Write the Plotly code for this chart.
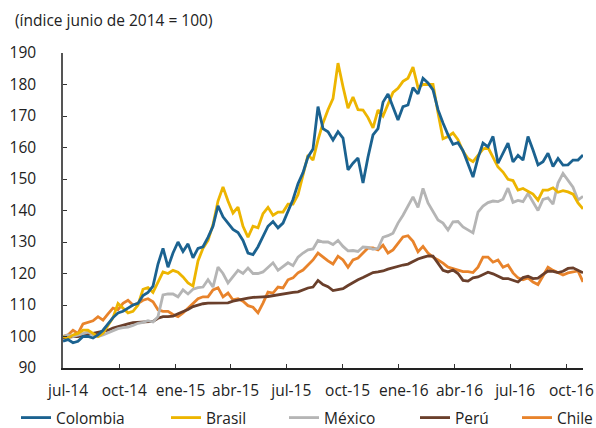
import pandas as pd
import plotly.graph_objects as go

# ---------------- data ----------------
start_date = "2014-07-01"
end_date = "2016-10-28"
n_points = 105

colombia = [
    98.5, 99, 98, 98.5, 100, 100, 99.5, 100.5, 102, 104,
    106, 107.5, 108, 109, 110, 110.5, 113, 114, 116, 123,
    128, 122, 126.5, 130, 127, 129.4, 125, 128, 128.5, 131.5,
    135, 141.5, 138, 136, 134, 133, 130.5, 126.5, 126, 128.5,
    132, 135, 136.5, 134.5, 136, 139.5, 143.5, 148.5, 152, 157,
    159.5, 173, 166, 165, 162.4, 165, 163, 152.9, 155, 156.7,
    148.7, 157, 164, 166, 174.4, 177, 173, 168.7, 173, 173.5,
    179, 177, 182, 180.5, 178.3, 172, 167.8, 164, 161, 161.5,
    159, 155, 150.6, 156.7, 161.4, 160.2, 163.5, 155, 158.2, 161.4,
    155.4, 157.5, 156, 163.5, 159.2, 154.5, 155.5, 158.2, 154, 156.5,
    154.4, 154.5, 156, 156, 157.6,
]
brasil = [
    100, 99.5, 100.5, 101, 102, 102, 101, 100, 101, 103.5,
    106, 110.5, 109, 107.5, 108, 110, 115, 115.5, 114, 117.5,
    120.5, 120, 121, 120.4, 118.9, 117, 116, 124, 128, 130.5,
    135.5, 143, 147.5, 143, 139.2, 141.1, 135, 131.5, 135, 134.5,
    139, 141, 138.5, 139.5, 139.5, 142, 142, 145, 151.8, 157.6,
    156, 162.4, 167.8, 172, 175.5, 186.8, 179.3, 172.5, 176, 172,
    171.9, 169.5, 166.2, 171.9, 170, 173.5, 177.5, 178.8, 181, 182,
    185.5, 179, 180, 180, 180, 171, 162.8, 163.5, 164.6, 162.5,
    158.8, 156.5, 155.5, 157.5, 159.5, 160, 157, 153.8, 152.2, 149.9,
    149.5, 146.5, 147, 146, 145.2, 143.3, 146.5, 146.5, 147.2, 145.8,
    146.3, 145.9, 145.2, 142.4, 140.5,
]
mexico = [
    100, 100.5, 100, 100.5, 101, 101.4, 100.5, 100, 100.5, 101.2,
    102, 102.5, 102.8, 103, 103.5, 104.2, 104.5, 105, 104.6, 106.3,
    113.2, 113.5, 113.5, 112.6, 114.8, 113.5, 115, 115.5, 115.7, 118,
    115.7, 122, 120, 117, 119, 121, 120, 121.7, 120, 120,
    120.5, 122, 123.4, 121, 122.3, 123.4, 122.5, 125.2, 126.5, 127.5,
    127.8, 130.5, 130, 130, 129.2, 130.5, 128.6, 127.2, 127.3, 127,
    128.4, 128.3, 127.7, 128, 131.5, 132, 132.8, 136, 138.5, 141.2,
    144.3, 141, 147, 142.4, 139.8, 137, 136, 133.8, 136.4, 136.5,
    134.8, 133.8, 132.9, 139.5, 141.4, 142.5, 143, 142.8, 143.6, 147.1,
    142.6, 143.2, 142.8, 145.4, 142.6, 140, 143.5, 144, 142, 148.7,
    151.8, 149.4, 147.4, 143.3, 144.5,
]
peru = [
    99.5, 99.8, 100, 100, 100.3, 100.7, 101, 101.2, 101.5, 102,
    102.7, 103.2, 103.7, 104, 104.4, 104.5, 104.6, 104.7, 104.8, 105.8,
    106.3, 106.3, 106.5, 107.2, 107.8, 108.6, 109.5, 110, 110.4, 110.6,
    110.6, 110.6, 110.6, 110.7, 111.2, 111.6, 112, 112.2, 112.4, 112.6,
    112.6, 112.7, 113, 113.3, 113.5, 113.8, 114, 114.2, 114.8, 115.4,
    115.7, 117.8, 116.5, 115.8, 114.6, 114.8, 115.2, 116.2, 117.2, 118,
    118.7, 119.6, 120.3, 120.5, 120.8, 121.4, 121.9, 122.4, 122.7, 123,
    123.8, 124.6, 125.1, 125.6, 125.5, 123.3, 121, 120.5, 121.1, 120,
    117.8, 117.6, 118.6, 118.9, 119.7, 120.4, 119.9, 119.1, 118.4, 118.4,
    117.8, 117.3, 118.7, 119.1, 118.4, 118.5, 119.7, 120.8, 120.7, 120.3,
    120.7, 121.6, 121.8, 121, 120.2,
]
chile = [
    100, 100.5, 102, 101, 104, 104.4, 105, 106.3, 105.2, 107.2,
    109, 108.5, 110.5, 111.5, 110, 110.5, 111.5, 112, 111, 108.5,
    108, 108, 107, 106.3, 107.5, 109, 110.5, 112, 112.6, 112.6,
    114.8, 115.5, 112.6, 113.8, 111.6, 112, 111.2, 109.8, 109.3, 107.5,
    110.6, 114.1, 113.8, 115.7, 115.4, 118, 118.6, 120.2, 121.1, 122.7,
    124.3, 126.5, 125.2, 124, 123, 125.5, 124.3, 122, 124.3, 124.9,
    126.5, 128.1, 128.1, 127.5, 129, 126.5, 127.5, 129.7, 131.6, 132,
    130.2, 126.9, 128.6, 126.5, 125.2, 124.3, 123.3, 122, 121.6, 121,
    120.6, 120.6, 120.3, 122, 125.2, 125.2, 123.6, 124.3, 122, 122.7,
    120.2, 118.6, 118, 118.6, 117.3, 116.5, 119.5, 122, 121, 120.2,
    119.5, 120.2, 120.6, 120.8, 117.3,
]

tick_dates = ["2014-07-01", "2014-10-01", "2015-01-01", "2015-04-01", "2015-07-01",
              "2015-10-01", "2016-01-01", "2016-04-01", "2016-07-01", "2016-10-01"]
tick_labels = ["jul-14", "oct-14", "ene-15", "abr-15", "jul-15",
               "oct-15", "ene-16", "abr-16", "jul-16", "oct-16"]

series_names = ["Colombia", "Brasil", "México", "Perú", "Chile"]
series_values = [colombia, brasil, mexico, peru, chile]
series_colors = ["#1B6290", "#EDB500", "#B5B5B5", "#6A3F2B", "#E8832B"]

dates = pd.date_range(start_date, end_date, periods=n_points)

# ---------------- figure ----------------
W, H = 596, 428
FONT = "Open Sans"
FS = 15.5
TXT = "#222222"

fig = go.Figure()

legend_x_px = [16, 166, 284, 415, 517]
legend_keys = ["legend", "legend2", "legend3", "legend4", "legend5"]
draw_order = [4, 3, 2, 1, 0]  # Chile bottom ... Colombia on top

for i in draw_order:
    fig.add_trace(go.Scatter(
        x=dates, y=series_values[i], mode="lines", name=series_names[i],
        line=dict(color=series_colors[i], width=2.8),
        legend=legend_keys[i],
    ))

layout_legends = {}
for i, key in enumerate(legend_keys):
    layout_legends[key] = dict(
        orientation="h", xref="container", yref="container",
        x=legend_x_px[i] / W, y=1 - 418 / H, xanchor="left", yanchor="middle",
        font=dict(family=FONT, size=FS, color=TXT),
        bgcolor="rgba(0,0,0,0)", borderwidth=0,
    )

fig.update_layout(
    width=W, height=H,
    margin=dict(l=63, r=13, t=53, b=60, autoexpand=False),
    paper_bgcolor="white", plot_bgcolor="white",
    font=dict(family=FONT, size=FS, color=TXT),
    showlegend=True,
    **layout_legends,
)

fig.update_xaxes(
    type="date", range=[start_date, end_date],
    tickvals=tick_dates, ticktext=tick_labels,
    ticks="inside", ticklen=4, tickwidth=1, tickcolor="#333333",
    showline=True, linecolor="#222222", linewidth=1.5,
    showgrid=False, zeroline=False, automargin=False,
    tickfont=dict(family=FONT, size=FS, color=TXT),
    ticklabelshift=5, ticklabelstandoff=8,
)
fig.update_yaxes(
    range=[90, 190], dtick=10, tick0=90,
    ticks="inside", ticklen=4, tickwidth=1, tickcolor="#333333",
    showline=True, linecolor="#555555", linewidth=1.5,
    showgrid=False, zeroline=False, automargin=False,
    tickfont=dict(family=FONT, size=FS, color=TXT),
    ticklabelstandoff=22,
)

fig.add_annotation(
    text="(índice junio de 2014 = 100)",
    xref="paper", yref="paper", x=(13 - 63) / 520, y=(368 - 20) / 315,
    xanchor="left", yanchor="middle", showarrow=False,
    font=dict(family=FONT, size=FS, color=TXT),
)

fig.write_html("out.html", config={"displayModeBar": False},
               post_script="document.body.style.margin='0';")
